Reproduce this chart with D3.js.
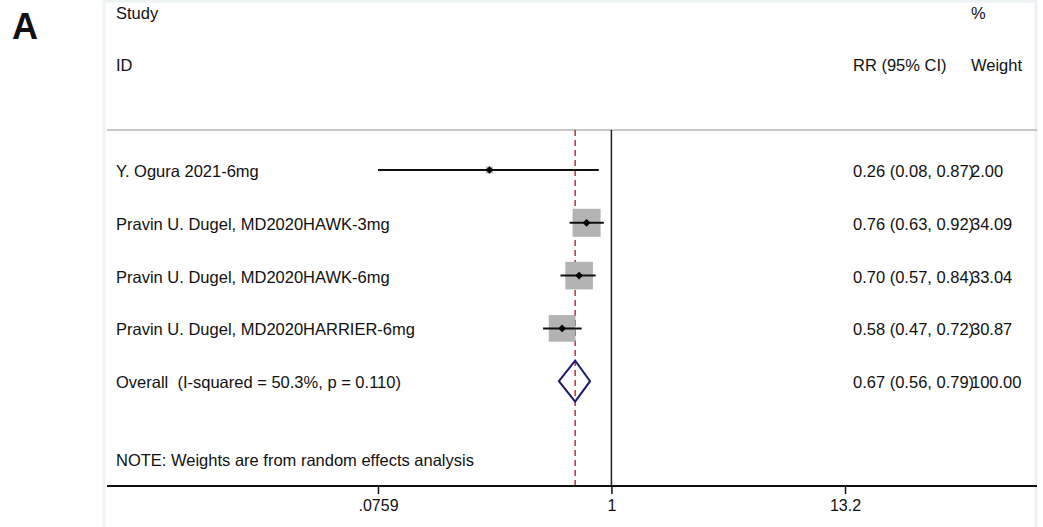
<!DOCTYPE html>
<html lang="en">
<head>
  <meta charset="UTF-8">
  <title>Forest plot A</title>
  <script src="https://d3js.org/d3.v7.min.js"></script>
  <style>
    body { margin: 0; background: #fff; }
    text { font-family: "Liberation Sans", Arial, Helvetica, sans-serif; fill: #111; white-space: pre; }
    .lbl { font-size: 16.5px; }
    .tick text { font-size: 16px; }
  </style>
</head>
<body>
<svg id="chart" width="1043" height="527"></svg>
<script>
// study rows
const studies = [
  "Y. Ogura 2021-6mg",
  "Pravin U. Dugel, MD2020HAWK-3mg",
  "Pravin U. Dugel, MD2020HAWK-6mg",
  "Pravin U. Dugel, MD2020HARRIER-6mg"
];
const rr = [0.26, 0.76, 0.70, 0.58];
const lower = [0.0759, 0.63, 0.57, 0.47];
const upper = [0.87, 0.92, 0.84, 0.72];
const weights = [2.00, 34.09, 33.04, 30.87];

// pooled estimate
const overallLabel = "Overall  (I-squared = 50.3%, p = 0.110)";
const overallRR = 0.67, overallLo = 0.56, overallHi = 0.79, overallW = 100.00;

const tickVals = [0.0759, 1, 13.2];
const tickLabels = [".0759", "1", "13.2"];

const svg = d3.select("#chart");
const fmt = d3.format(".2f");

// faint panel border
svg.append("rect")
  .attr("x", 104).attr("y", 1).attr("width", 932).attr("height", 560)
  .attr("fill", "none").attr("stroke", "#edf2f5").attr("stroke-width", 3);

svg.append("text").attr("x", 12).attr("y", 39)
  .style("font-size", "36px").style("font-weight", "bold").text("A");

const x = d3.scaleLog().domain([0.0759, 13.2]).range([378, 845]);
const y = d3.scaleLinear().domain([0, 4]).range([170, 381.2]);

const colStudy = 116, colRR = 853, colW = 971;
const plotTop = 130, axisY = 486;

// headers
svg.append("text").attr("class", "lbl").attr("x", colStudy).attr("y", 19).text("Study");
svg.append("text").attr("class", "lbl").attr("x", colStudy).attr("y", 71).text("ID");
svg.append("text").attr("class", "lbl").attr("x", colRR).attr("y", 71).text("RR (95% CI)");
svg.append("text").attr("class", "lbl").attr("x", colW).attr("y", 19).text("%");
svg.append("text").attr("class", "lbl").attr("x", colW).attr("y", 71).text("Weight");

// header separator
svg.append("line")
  .attr("x1", 107).attr("x2", 1037).attr("y1", plotTop).attr("y2", plotTop)
  .attr("stroke", "#b4b4b4").attr("stroke-width", 1.5);

// null line and overall line
svg.append("line")
  .attr("x1", x(1)).attr("x2", x(1)).attr("y1", plotTop).attr("y2", axisY)
  .attr("stroke", "#222").attr("stroke-width", 1.5);
svg.append("line")
  .attr("x1", x(overallRR)).attr("x2", x(overallRR)).attr("y1", plotTop).attr("y2", axisY)
  .attr("stroke", "#c0202c").attr("stroke-width", 1.4).attr("stroke-dasharray", "6,4");

const rows = studies.map((s, i) => ({ s, rr: rr[i], lo: lower[i], hi: upper[i], w: weights[i], i }));

const g = svg.append("g").selectAll("g").data(rows).join("g");

g.append("rect")
  .attr("x", d => x(d.rr) - 2.4 * Math.sqrt(d.w))
  .attr("y", d => y(d.i) - 2.4 * Math.sqrt(d.w))
  .attr("width", d => 4.8 * Math.sqrt(d.w))
  .attr("height", d => 4.8 * Math.sqrt(d.w))
  .attr("fill", "#b3b3b3");

g.append("line")
  .attr("x1", d => x(d.lo)).attr("x2", d => x(d.hi))
  .attr("y1", d => y(d.i)).attr("y2", d => y(d.i))
  .attr("stroke", "#111").attr("stroke-width", 2);

g.append("path")
  .attr("transform", d => `translate(${x(d.rr)},${y(d.i)}) rotate(45)`)
  .attr("d", d3.symbol(d3.symbolSquare, 30))
  .attr("fill", "#000");

g.append("text").attr("class", "lbl")
  .attr("x", colStudy).attr("y", d => y(d.i) + 7).text(d => d.s);
g.append("text").attr("class", "lbl")
  .attr("x", colRR).attr("y", d => y(d.i) + 7)
  .text(d => `${fmt(d.rr)} (${fmt(d.lo)}, ${fmt(d.hi)})`);
g.append("text").attr("class", "lbl")
  .attr("x", colW).attr("y", d => y(d.i) + 7).text(d => fmt(d.w));

// overall row
const oy = y(4);
svg.append("path")
  .attr("d", `M${x(overallLo)},${oy} L${x(overallRR)},${oy - 20.5} L${x(overallHi)},${oy} L${x(overallRR)},${oy + 20.5} Z`)
  .attr("fill", "none").attr("stroke", "#1b1b72").attr("stroke-width", 2);
svg.append("text").attr("class", "lbl").attr("x", colStudy).attr("y", oy + 7).text(overallLabel);
svg.append("text").attr("class", "lbl").attr("x", colRR).attr("y", oy + 7)
  .text(`${fmt(overallRR)} (${fmt(overallLo)}, ${fmt(overallHi)})`);
svg.append("text").attr("class", "lbl").attr("x", colW).attr("y", oy + 7).text(fmt(overallW));

svg.append("text").attr("class", "lbl").attr("x", colStudy).attr("y", y(5.5) + 6)
  .text("NOTE: Weights are from random effects analysis");

// x axis
svg.append("line")
  .attr("x1", 107).attr("x2", 1037).attr("y1", axisY).attr("y2", axisY)
  .attr("stroke", "#111").attr("stroke-width", 2);
const axis = svg.append("g").attr("transform", `translate(0,${axisY})`)
  .call(d3.axisBottom(x).tickValues(tickVals)
    .tickFormat((d, i) => tickLabels[i]).tickSize(8).tickPadding(6));
axis.select(".domain").remove();
axis.selectAll(".tick line").attr("stroke", "#111").attr("stroke-width", 1.5);
axis.selectAll(".tick text").attr("fill", "#111");
</script>
</body>
</html>
